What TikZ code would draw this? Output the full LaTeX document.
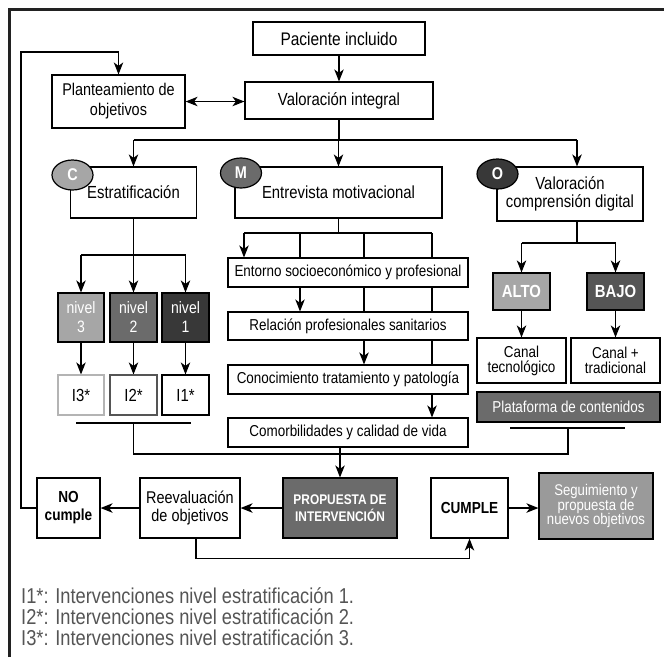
\documentclass[tikz,border=0pt]{standalone}
\usepackage{fontspec}
\setmainfont{Liberation Sans}[FakeStretch=0.85]
\usetikzlibrary{arrows.meta,shapes.geometric,backgrounds}
\definecolor{frameC}{HTML}{222222}
\definecolor{gLight}{HTML}{A6A6A6}
\definecolor{gMid}{HTML}{6B6B6B}
\definecolor{gBajo}{HTML}{555555}
\definecolor{gDark}{HTML}{383838}
\definecolor{gSeg}{HTML}{9A9A9A}
\definecolor{legC}{HTML}{555555}
\definecolor{iThree}{HTML}{B4B4B4}
\definecolor{iTwo}{HTML}{555555}
\begin{document}
\begin{tikzpicture}[x=1pt,y=-1pt,
  box/.style={draw=black, fill=white, line width=1.2pt, inner sep=0pt, align=center},
  gbox/.style={box, fill=#1, text=white},
  tag/.style={ellipse, draw=black, line width=1.2pt, fill=#1, text=white, inner sep=0pt,
    minimum width=41pt, minimum height=30pt, font=\fontsize{17}{19}\selectfont\bfseries},
  arr/.style={-{Stealth[length=12pt,width=9.5pt,inset=3.5pt]}, line width=1.2pt},
  darr/.style={{Stealth[length=12pt,width=9.5pt,inset=3.5pt]}-{Stealth[length=12pt,width=9.5pt,inset=3.5pt]}, line width=1.2pt},
  ln/.style={line width=1.2pt},
  hd/.style={font=\fontsize{17.5}{19}\selectfont},
  it/.style={font=\fontsize{15.8}{16}\selectfont},
  sm/.style={font=\fontsize{15.8}{15}\selectfont},
  bd/.style={font=\fontsize{16}{18}\selectfont\bfseries},
  leg/.style={anchor=west, inner sep=0pt, text=legC, font=\fontsize{21.5}{22}\selectfont}
]
\useasboundingbox (0,0) rectangle (664,657);
\draw[line width=2.6pt, frameC] (9.5,657) -- (9.5,9.5) -- (664,9.5);

% top
\node[box,font=\fontsize{18.2}{19}\selectfont,minimum width=172pt,minimum height=33pt] (pac) at (339,38.5) {Paciente incluido};
\node[box,hd,minimum width=188pt,minimum height=37pt] (vi) at (339,100.5) {Valoración integral};
\node[box,font=\fontsize{17}{20}\selectfont,minimum width=133pt,minimum height=53pt] (plan) at (118.5,101.5) {Planteamiento de\\objetivos};

% second level
\node[box,hd,minimum width=126pt,minimum height=51pt] (estr) at (133.5,192.5) {Estratificación};
\node[box,hd,minimum width=207pt,minimum height=51pt] (entr) at (338.5,192.5) {Entrevista motivacional};
\node[box,font=\fontsize{17.5}{18}\selectfont,minimum width=146pt,minimum height=54pt] (odig) at (570,194) {Valoración\\comprensión digital};
\node[tag=gLight] (tC) at (72.5,175) {C};
\node[tag=gMid] (tM) at (241,173) {M};
\node[tag=gDark] (tO) at (497.5,174) {O};

% levels
\node[gbox=gLight,font=\fontsize{16.5}{19}\selectfont,minimum width=46pt,minimum height=49pt] (n3) at (81,317.5) {nivel\\3};
\node[gbox=gMid,font=\fontsize{16.5}{19}\selectfont,minimum width=47pt,minimum height=49pt] (n2) at (133.5,317.5) {nivel\\2};
\node[gbox=gDark,font=\fontsize{16.5}{19}\selectfont,minimum width=47pt,minimum height=49pt] (n1) at (185.5,317.5) {nivel\\1};
\node[box,draw=iThree,font=\fontsize{17.5}{19}\selectfont,minimum width=46pt,minimum height=40pt] (i3) at (81,395) {I3*};
\node[box,draw=iTwo,font=\fontsize{17.5}{19}\selectfont,minimum width=47pt,minimum height=40pt] (i2) at (133.5,395) {I2*};
\node[box,font=\fontsize{17.5}{19}\selectfont,minimum width=47pt,minimum height=40pt] (i1) at (185.5,395) {I1*};

% middle list
\node[box,it,minimum width=240pt,minimum height=29pt] (ent) at (348,272.5) {Entorno socioeconómico y profesional};
\node[box,it,minimum width=240pt,minimum height=28pt] (rel) at (348,326) {Relación profesionales sanitarios};
\node[box,it,minimum width=240pt,minimum height=29pt] (con) at (348,379.5) {Conocimiento tratamiento y patología};
\node[box,it,minimum width=240pt,minimum height=29pt] (com) at (348,432.5) {Comorbilidades y calidad de vida};

% right column
\node[gbox=gLight,font=\fontsize{17.5}{19}\selectfont\bfseries,minimum width=57pt,minimum height=37pt] (alto) at (521.5,291.5) {ALTO};
\node[gbox=gBajo,font=\fontsize{17.5}{19}\selectfont\bfseries,minimum width=57pt,minimum height=37pt] (bajo) at (615.5,291.5) {BAJO};
\node[box,sm,minimum width=89pt,minimum height=45pt] (ctec) at (521.5,360.5) {Canal\\tecnológico};
\node[box,sm,minimum width=89pt,minimum height=45pt] (ctra) at (615.5,360.5) {Canal +\\tradicional};
\node[gbox=gMid,it,minimum width=183pt,minimum height=30pt] (plat) at (568.5,407) {Plataforma de contenidos};

% bottom row
\node[box,bd,minimum width=63pt,minimum height=60pt] (no) at (68.5,508) {NO\\cumple};
\node[box,font=\fontsize{17}{18}\selectfont,minimum width=100pt,minimum height=60pt] (reev) at (190,508) {Reevaluación\\de objetivos};
\node[gbox=gMid,font=\fontsize{14}{17}\selectfont\bfseries,minimum width=114pt,minimum height=60pt] (prop) at (340,508) {PROPUESTA DE\\INTERVENCIÓN};
\node[box,bd,minimum width=77pt,minimum height=60pt] (cump) at (469.5,508) {CUMPLE};
\node[gbox=gSeg,font=\fontsize{15.5}{14.5}\selectfont,minimum width=114pt,minimum height=66pt] (seg) at (596,506) {Seguimiento y\\propuesta de\\nuevos objetivos};

% legend
\node[leg] (l1) at (21,596) {I1*: Intervenciones nivel estratificación 1.};
\node[leg] (l2) at (21,617) {I2*: Intervenciones nivel estratificación 2.};
\node[leg] (l3) at (21,638) {I3*: Intervenciones nivel estratificación 3.};

% coordinates
\coordinate (brL) at (133.5,140);
\coordinate (brR) at (577,140);
\coordinate (eb) at (133.5,255);
\coordinate (ebL) at (81,255);
\coordinate (ebR) at (185.5,255);
\coordinate (mb) at (338.5,233);
\coordinate (mbL) at (244,233);
\coordinate (mbA) at (300,233);
\coordinate (mbB) at (364,233);
\coordinate (mbR) at (432,233);
\coordinate (ob) at (577,243);
\coordinate (obL) at (521.5,243);
\coordinate (obR) at (615.5,243);
\coordinate (iL) at (76,423);
\coordinate (iR) at (191,423);
\coordinate (iM) at (133.5,423);
\coordinate (pL) at (510,428);
\coordinate (pR) at (625,428);
\coordinate (pM) at (568,428);
\coordinate (jn) at (340,454);
\coordinate (fb) at (21,52);

\begin{pgfonlayer}{background}
\draw[arr] (pac) -- (vi);
\draw[darr] (plan.east) -- (plan.east -| vi.west);
\draw[ln] (vi.south) -- (vi.south |- brL);
\draw[ln] (brL) -- (brR);
\draw[arr] (brL) -- (estr.north);
\draw[arr] (entr.north |- brL) -- (entr.north);
\draw[arr] (brR) -- (brR |- odig.north);
% C branch
\draw[ln] (estr.south) -- (eb);
\draw[ln] (ebL) -- (ebR);
\draw[arr] (ebL) -- (n3.north);
\draw[arr] (eb) -- (n2.north);
\draw[arr] (ebR) -- (n1.north);
\draw[arr] (n3) -- (i3);
\draw[arr] (n2) -- (i2);
\draw[arr] (n1) -- (i1);
\draw[ln] (iL) -- (iR);
\draw[ln] (iM) -- (iM |- jn) -- (jn);
% M branch
\draw[ln] (entr.south) -- (mb);
\draw[ln] (mbL) -- (mbR);
\draw[arr] (mbL) -- (mbL |- ent.north);
\draw[arr] (mbA) -- (mbA |- rel.north);
\draw[arr] (mbB) -- (mbB |- con.north);
\draw[arr] (mbR) -- (mbR |- com.north);
\draw[arr] (com.south -| prop.north) -- (prop.north);
% O branch
\draw[ln] (odig.south -| ob) -- (ob);
\draw[ln] (obL) -- (obR);
\draw[arr] (obL) -- (alto.north);
\draw[arr] (obR) -- (bajo.north);
\draw[arr] (alto) -- (ctec);
\draw[arr] (bajo) -- (ctra);
\draw[ln] (pL) -- (pR);
\draw[ln] (pM) -- (pM |- jn) -- (jn);
% bottom
\draw[arr] (prop) -- (reev);
\draw[arr] (reev) -- (no);
\draw[arr] (cump.east) -- (cump.east -| seg.west);
\draw[arr] ([xshift=6pt]reev.south) -- ++(0,20) -| (cump.south);
\draw[arr] (no.west) -| (fb) -| (plan.north);
\end{pgfonlayer}
\end{tikzpicture}
\end{document}
